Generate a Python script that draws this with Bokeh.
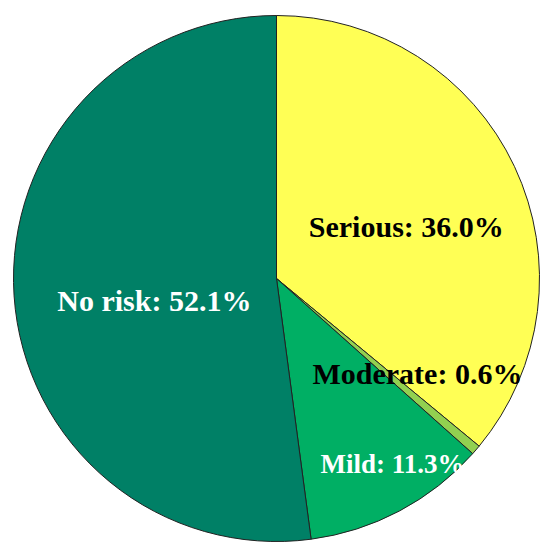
import math
from bokeh.plotting import figure
from bokeh.models import Range1d, ColumnDataSource
from bokeh.core.properties import value
from bokeh.embed import file_html
from bokeh.resources import INLINE

# ---- data ----
categories = ["Serious", "Moderate", "Mild", "No risk"]
percent = [36.0, 0.6, 11.3, 52.1]
colors = ["#FFFF55", "#92D050", "#00AF64", "#008066"]
label_colors = ["black", "black", "white", "white"]
label_sizes = ["30px", "30px", "27px", "30px"]

# ---- layout (pixels in figure space) ----
W, H = 542, 547
CX, CY = 276, H - 278
R = 263
# label placement: (radius, angle-from-top in degrees)
label_polar = [(140, 68), (170, 124), (219, 148), (124, 260)]

total = sum(percent)
starts, ends = [], []
cum = 0.0
for v in percent:
    starts.append(math.pi / 2 - 2 * math.pi * cum / total)
    cum += v
    ends.append(math.pi / 2 - 2 * math.pi * cum / total)

src = ColumnDataSource(dict(
    x=[CX] * len(percent), y=[CY] * len(percent),
    start=starts, end=ends, color=colors, cat=categories))

p = figure(width=W, height=H, output_backend="svg", toolbar_location=None,
           x_range=Range1d(0, W), y_range=Range1d(0, H), min_border=0)
p.axis.visible = False
p.grid.visible = False
p.outline_line_color = None
p.background_fill_color = "white"

p.wedge(x="x", y="y", radius=R, start_angle="start", end_angle="end",
        direction="clock", fill_color="color", line_color="#222222",
        line_width=1, source=src)

lx, ly, txt = [], [], []
for cat, v, (r, a) in zip(categories, percent, label_polar):
    lx.append(CX + r * math.sin(math.radians(a)))
    ly.append(CY + r * math.cos(math.radians(a)))
    txt.append(f"{cat}: {v:.1f}%")

lsrc = ColumnDataSource(dict(x=lx, y=ly, text=txt, color=label_colors, size=label_sizes))
p.text(x="x", y="y", text="text", text_color="color", text_font_size="size",
       text_font=value("Liberation Serif"), text_font_style="bold",
       text_align="center", text_baseline="middle", source=lsrc)

open("out.html", "w").write(file_html(p, INLINE))
